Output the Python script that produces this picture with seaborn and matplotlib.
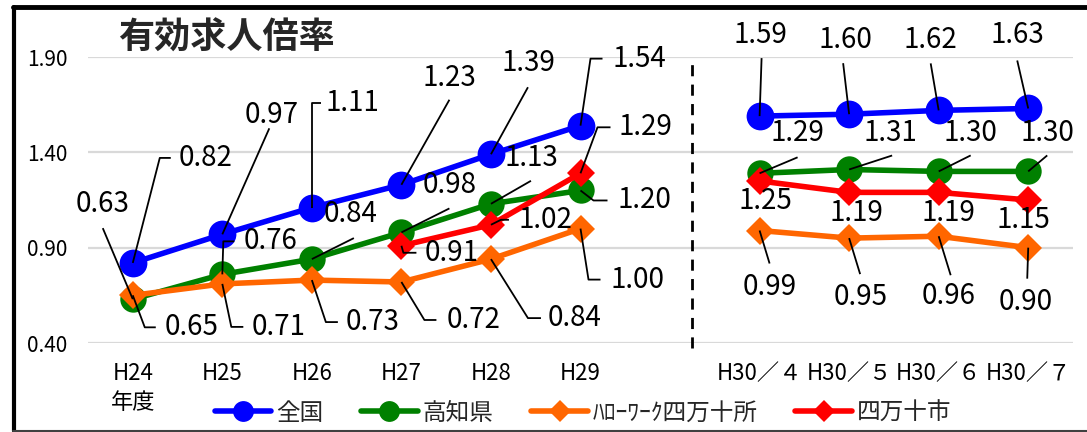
import numpy as np
import matplotlib
matplotlib.use('Agg')
import matplotlib.pyplot as plt
from matplotlib.lines import Line2D
import seaborn as sns

# 期間（H29の後に区切り用の空き位置 6 を挟む）
periods = ['H24\n年度', 'H25', 'H26', 'H27', 'H28', 'H29',
           'H30／４', 'H30／５', 'H30／６', 'H30／７']
positions = [0, 1, 2, 3, 4, 5, 7, 8, 9, 10]

zenkoku = [0.82, 0.97, 1.11, 1.23, 1.39, 1.54, 1.59, 1.60, 1.62, 1.63]
kochi = [0.63, 0.76, 0.84, 0.98, 1.13, 1.20, 1.29, 1.31, 1.30, 1.30]
hellowork = [0.65, 0.71, 0.73, 0.72, 0.84, 1.00, 0.99, 0.95, 0.96, 0.90]
shimanto = [np.nan, np.nan, np.nan, 0.91, 1.02, 1.29, 1.25, 1.19, 1.19, 1.15]

yticks = [0.40, 0.90, 1.40, 1.90]

# ラベル位置（点からのピクセルずれ, 下向き+）：(文字x, 文字y, 揃え, 引出線の折れ点)
zenkoku_lbl = [(46, -105, 'left', [(27, -105), (38, -105)]),
               (49, -119, 'center', [(47, -106)]),
               (14, -105, 'left', [(0, -105), (9, -105)]),
               (48, -107, 'center', [(48, -85)]),
               (37, -91, 'center', [(37, -67)]),
               (32, -67, 'left', [(10, -67), (22, -67)]),
               (1, -81, 'center', [(2, -58)]),
               (-4, -74, 'center', [(-6, -51)]),
               (-8, -70, 'center', [(-8, -47)]),
               (-11, -73, 'center', [(-11, -48)])]
kochi_lbl = [(-30, -95, 'center', [(-30, -71)]),
             (21, -33, 'left', [(1, -33), (12, -33)]),
             (39, -45, 'center', [(42, -21)]),
             (48, -47, 'center', [(48, -24)]),
             (40, -46, 'center', [(40, -23)]),
             (37, 10, 'left', [(13, 10), (27, 10)]),
             (38, -40, 'center', [(38, -16)]),
             (41, -36, 'center', [(43, -14)]),
             (32, -38, 'center', [(32, -16)]),
             (19, -38, 'center', [(19, -16)])]
hw_lbl = [(32, 32, 'left', [(12, 32), (23, 32)]),
          (29, 43, 'left', [(9, 43), (21, 43)]),
          (34, 42, 'left', [(14, 42), (26, 42)]),
          (45, 38, 'left', [(23, 38), (35, 38)]),
          (57, 59, 'left', [(37, 59), (50, 59)]),
          (30, 51, 'left', [(8, 51), (20, 51)]),
          (10, 56, 'center', [(10, 33)]),
          (11, 59, 'center', [(11, 36)]),
          (10, 60, 'center', [(12, 39)]),
          (-3, 54, 'center', [(-1, 31)])]
shimanto_lbl = [None, None, None,
                (23, 7, 'left', [(2, 7), (15, 7)]),
                (28, -5, 'left', [(10, -5), (18, -5)]),
                (38, -46, 'left', [(17, -46), (30, -46)]),
                (6, 20, 'center', []),
                (7, 21, 'center', []),
                (10, 21, 'center', []),
                (-5, 20, 'center', [])]

series = [('全国', zenkoku, '#0000ff', 'o', 20, 15, zenkoku_lbl),
          ('高知県', kochi, '#008000', 'o', 19, 15, kochi_lbl),
          ('ﾊﾛｰﾜｰｸ四万十所', hellowork, '#ff6600', 'D', 14, 11, hw_lbl),
          ('四万十市', shimanto, '#ff0000', 'D', 14, 11, shimanto_lbl)]

sns.set_theme(style='white')
plt.rcParams['font.family'] = ['Noto Sans CJK JP', 'DejaVu Sans']

W, H = 1087, 432
fig = plt.figure(figsize=(W / 100, H / 100), dpi=100)
ax = fig.add_axes([88 / W, (H - 343) / H, (1073 - 88) / W, (343 - 57) / H])

x_all = np.array(positions, dtype=float)
for k, (name, vals, color, marker, ms, lms, lbls) in enumerate(series):
    y_all = np.array(vals, dtype=float)
    for seg in (slice(0, 6), slice(6, 10)):
        xs, ys = x_all[seg], y_all[seg]
        ok = ~np.isnan(ys)
        sns.lineplot(x=xs[ok], y=ys[ok], color=color, linewidth=4,
                     marker=marker, markersize=ms, markeredgecolor=color,
                     markeredgewidth=0, ax=ax, zorder=3 + k * 0.1, legend=False)

ax.set_xlim(-0.5, 10.5)
ax.set_ylim(0.40, 1.90)
ax.set_yticks(yticks)
ax.set_yticklabels([f'{v:.2f}' for v in yticks])
ax.set_xticks(positions)
ax.set_xticklabels(periods)
for t in ax.get_xticklabels():
    t.set_linespacing(1.3)
ax.tick_params(axis='y', length=0, pad=15, labelsize=15, labelcolor='black')
ax.tick_params(axis='x', length=0, pad=14, labelsize=16, labelcolor='black')
ax.yaxis.grid(True, color='#d9d9d9', linewidth=1.6)
ax.xaxis.grid(False)
ax.set_axisbelow(True)
for s in ax.spines.values():
    s.set_visible(False)

# データラベルと引出線
to_disp = ax.transData.transform
to_data = ax.transData.inverted().transform
for name, vals, color, marker, ms, lms, lbls in series:
    for xp, v, spec in zip(positions, vals, lbls):
        if spec is None or np.isnan(v):
            continue
        tx, ty, ha, leader = spec
        px, py = to_disp((xp, v))
        if leader:
            pts = [(px, py)] + [(px + dx, py - dy) for dx, dy in leader]
            d = to_data(np.array(pts))
            ax.plot(d[:, 0], d[:, 1], color='black', lw=1.3, zorder=6,
                    clip_on=False, solid_capstyle='butt')
        ax.annotate(f'{v:.2f}', xy=(xp, v), xytext=(tx, -ty),
                    textcoords='offset pixels', ha=ha, va='center',
                    fontsize=20, color='black', zorder=7, annotation_clip=False)

# 区切りの破線（H29 と H30/4 の間）
ax.plot([6.25, 6.25], [0.375, 1.875], color='black', lw=2, ls=(0, (4, 3)),
        clip_on=False, zorder=2)

fig.text(118 / W, 1 - 38 / H, '有効求人倍率', fontsize=26, fontweight='bold',
         ha='left', va='center')

handles = [Line2D([0], [0], color=c, lw=4, marker=m, markersize=lm,
                  markeredgewidth=0) for _, _, c, m, _, lm, _ in series]
fig.legend(handles, [s[0] for s in series], loc='center',
           bbox_to_anchor=(583 / W, 1 - 413 / H), ncol=4, frameon=False,
           fontsize=17, handlelength=2.4, handletextpad=0.2,
           columnspacing=1.6, borderpad=0)

# 外枠
fig.add_artist(Line2D([14 / W, 14 / W], [1 / H, 1 - 7 / H], color='black',
                      lw=3, transform=fig.transFigure))
fig.add_artist(Line2D([13 / W, 1], [1 - 7 / H, 1 - 7 / H], color='black',
                      lw=3.5, transform=fig.transFigure))
fig.add_artist(Line2D([13 / W, 1], [1.5 / H, 1.5 / H], color='#404040',
                      lw=1.5, transform=fig.transFigure))

fig.savefig('out.png', dpi=100)
